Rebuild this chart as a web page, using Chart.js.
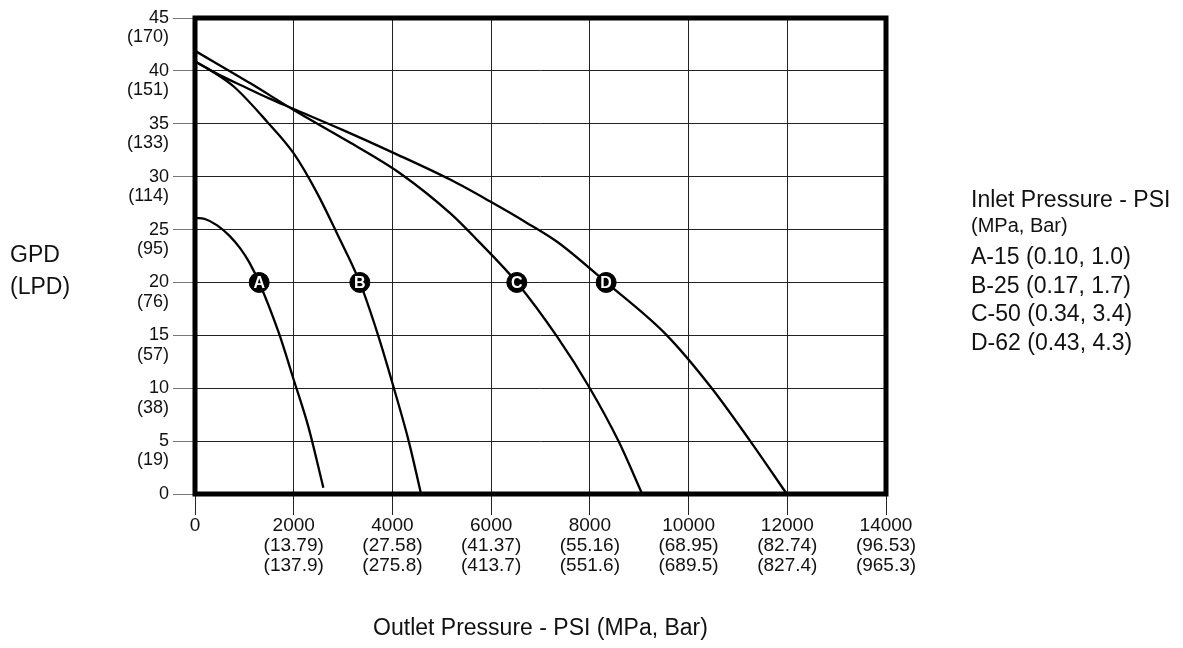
<!DOCTYPE html>
<html>
<head>
<meta charset="utf-8">
<script src="https://cdn.jsdelivr.net/npm/chart.js@4.4.1/dist/chart.umd.min.js"></script>
<style>
  html, body { margin: 0; padding: 0; background: #fff; }
</style>
</head>
<body>
<canvas id="plotarea" width="1183" height="648"></canvas>
<script>
// curves (x = outlet pressure psi, y = GPD)
const curveA = [[0, 26.1], [200, 26.0], [450, 25.4], [700, 24.4], [920, 23.2], [1100, 21.9], [1300, 20], [1700, 15.2], [2000, 10.8], [2300, 6.3], [2600, 0.6]];
const curveB = [[0, 40.9], [400, 39.8], [790, 38.5], [1460, 35.2], [2000, 32.2], [2480, 28.4], [2880, 24.6], [3340, 20], [3710, 15], [4030, 10], [4330, 5], [4580, 0]];
const curveC = [[0, 41.9], [1130, 38.8], [2000, 36.3], [3150, 33.2], [4160, 30.3], [5180, 26.5], [5720, 24.0], [6520, 20], [7340, 14.85], [8000, 10], [8580, 5], [9060, 0]];
const curveD = [[0, 40.9], [500, 39.6], [1000, 38.5], [1500, 37.4], [2000, 36.4], [3000, 34.4], [4000, 32.3], [5180, 29.7], [6000, 27.6], [6700, 25.7], [7350, 23.8], [8330, 20], [9560, 15], [10470, 10], [11250, 5], [11990, 0]];

// labelled markers on each curve
const markerLetters = ['A', 'B', 'C', 'D'];
const markerX = [1300, 3340, 6520, 8330];
const markerY = 20;

// tick labels
const yTickLpd = ['', '(19)', '(38)', '(57)', '(76)', '(95)', '(114)', '(133)', '(151)', '(170)'];
const xTickMpa = ['', '(13.79)', '(27.58)', '(41.37)', '(55.16)', '(68.95)', '(82.74)', '(96.53)'];
const xTickBar = ['', '(137.9)', '(275.8)', '(413.7)', '(551.6)', '(689.5)', '(827.4)', '(965.3)'];

// legend text
const inletTitle = 'Inlet Pressure - PSI';
const inletUnits = '(MPa, Bar)';
const inletLabels = ['A-15 (0.10, 1.0)', 'B-25 (0.17, 1.7)', 'C-50 (0.34, 3.4)', 'D-62 (0.43, 4.3)'];

const FONT = "'Liberation Sans', Arial, Helvetica, sans-serif";
Chart.defaults.font.family = FONT;
Chart.defaults.color = '#111';

function toPoints(arr) {
  return arr.map(p => ({ x: p[0], y: p[1] }));
}

function lineSet(label, arr) {
  return {
    type: 'line',
    label: label,
    data: toPoints(arr),
    borderColor: '#000',
    borderWidth: 2.3,
    pointRadius: 0,
    fill: false,
    cubicInterpolationMode: 'monotone',
    order: 1
  };
}

// -------- extra drawing: frame, marker letters, titles ----------

const framePlugin = {
  id: 'frame',
  afterDatasetsDraw(chart) {
    const { ctx, chartArea: a, scales } = chart;
    ctx.save();
    ctx.strokeStyle = '#000';
    ctx.lineWidth = 5;
    ctx.strokeRect(a.left, a.top, a.right - a.left, a.bottom - a.top);

    // letters inside the markers
    ctx.fillStyle = '#fff';
    ctx.font = 'bold 16px ' + FONT;
    ctx.textAlign = 'center';
    ctx.textBaseline = 'middle';
    markerLetters.forEach((l, i) => {
      ctx.fillText(l, scales.x.getPixelForValue(markerX[i]), scales.y.getPixelForValue(markerY) + 1);
    });
    ctx.restore();
  }
};

const textPlugin = {
  id: 'texts',
  afterDraw(chart) {
    const { ctx, chartArea: a } = chart;
    ctx.save();
    ctx.fillStyle = '#111';
    ctx.textBaseline = 'alphabetic';
    ctx.textAlign = 'left';

    // y title
    ctx.font = '23px ' + FONT;
    ctx.fillText('GPD', 10, 262);
    ctx.fillText('(LPD)', 10, 293.5);

    // legend block
    const lx = a.right + 85;
    ctx.fillText(inletTitle, lx, 206.5);
    ctx.font = '20px ' + FONT;
    ctx.fillText(inletUnits, lx, 232);
    ctx.font = '23px ' + FONT;
    inletLabels.forEach((t, i) => ctx.fillText(t, lx, 264 + i * 28.7));

    // x title
    ctx.textAlign = 'center';
    ctx.fillText('Outlet Pressure - PSI (MPa, Bar)', (a.left + a.right) / 2, 634.5);
    ctx.restore();
  }
};

const config = {
  data: {
    datasets: [
      {
        type: 'scatter',
        label: 'markers',
        data: markerX.map(x => ({ x: x, y: markerY })),
        pointRadius: 10,
        pointBackgroundColor: '#000',
        pointBorderColor: '#000',
        order: 0
      },
      lineSet('A', curveA),
      lineSet('B', curveB),
      lineSet('C', curveC),
      lineSet('D', curveD)
    ]
  },
  options: {
    responsive: false,
    animation: false,
    events: [],
    layout: { padding: { left: 0, right: 297, top: 18, bottom: 0 } },
    plugins: {
      legend: { display: false },
      tooltip: { enabled: false }
    },
    scales: {
      x: {
        type: 'linear',
        min: 0,
        max: 14000,
        border: { display: false },
        grid: { color: '#222', lineWidth: 1, tickLength: 21, tickColor: '#222' },
        ticks: {
          stepSize: 2000,
          autoSkip: false,
          maxRotation: 0,
          padding: 1,
          color: '#111',
          font: { size: 19, lineHeight: 1.05 },
          callback: (v) => {
            const i = Math.round(v / 2000);
            return i === 0 ? '0' : [String(v), xTickMpa[i], xTickBar[i]];
          }
        },
        afterFit: (s) => { s.height = 154; s.paddingLeft = 0; s.paddingRight = 0; }
      },
      y: {
        type: 'linear',
        min: 0,
        max: 45,
        border: { display: false },
        grid: { color: '#222', lineWidth: 1, tickLength: 22, tickColor: '#777' },
        ticks: {
          stepSize: 5,
          autoSkip: false,
          padding: 4,
          color: '#111',
          labelOffset: 9.7,
          font: { size: 18, lineHeight: 1.08 },
          callback: (v) => [String(v), yTickLpd[Math.round(v / 5)]]
        },
        afterFit: (s) => { s.width = 195; s.paddingTop = 0; s.paddingBottom = 0; }
      }
    }
  },
  plugins: [framePlugin, textPlugin]
};

const myChart = new Chart(
  document.getElementById('plotarea'),
  config
);
</script>
</body>
</html>
